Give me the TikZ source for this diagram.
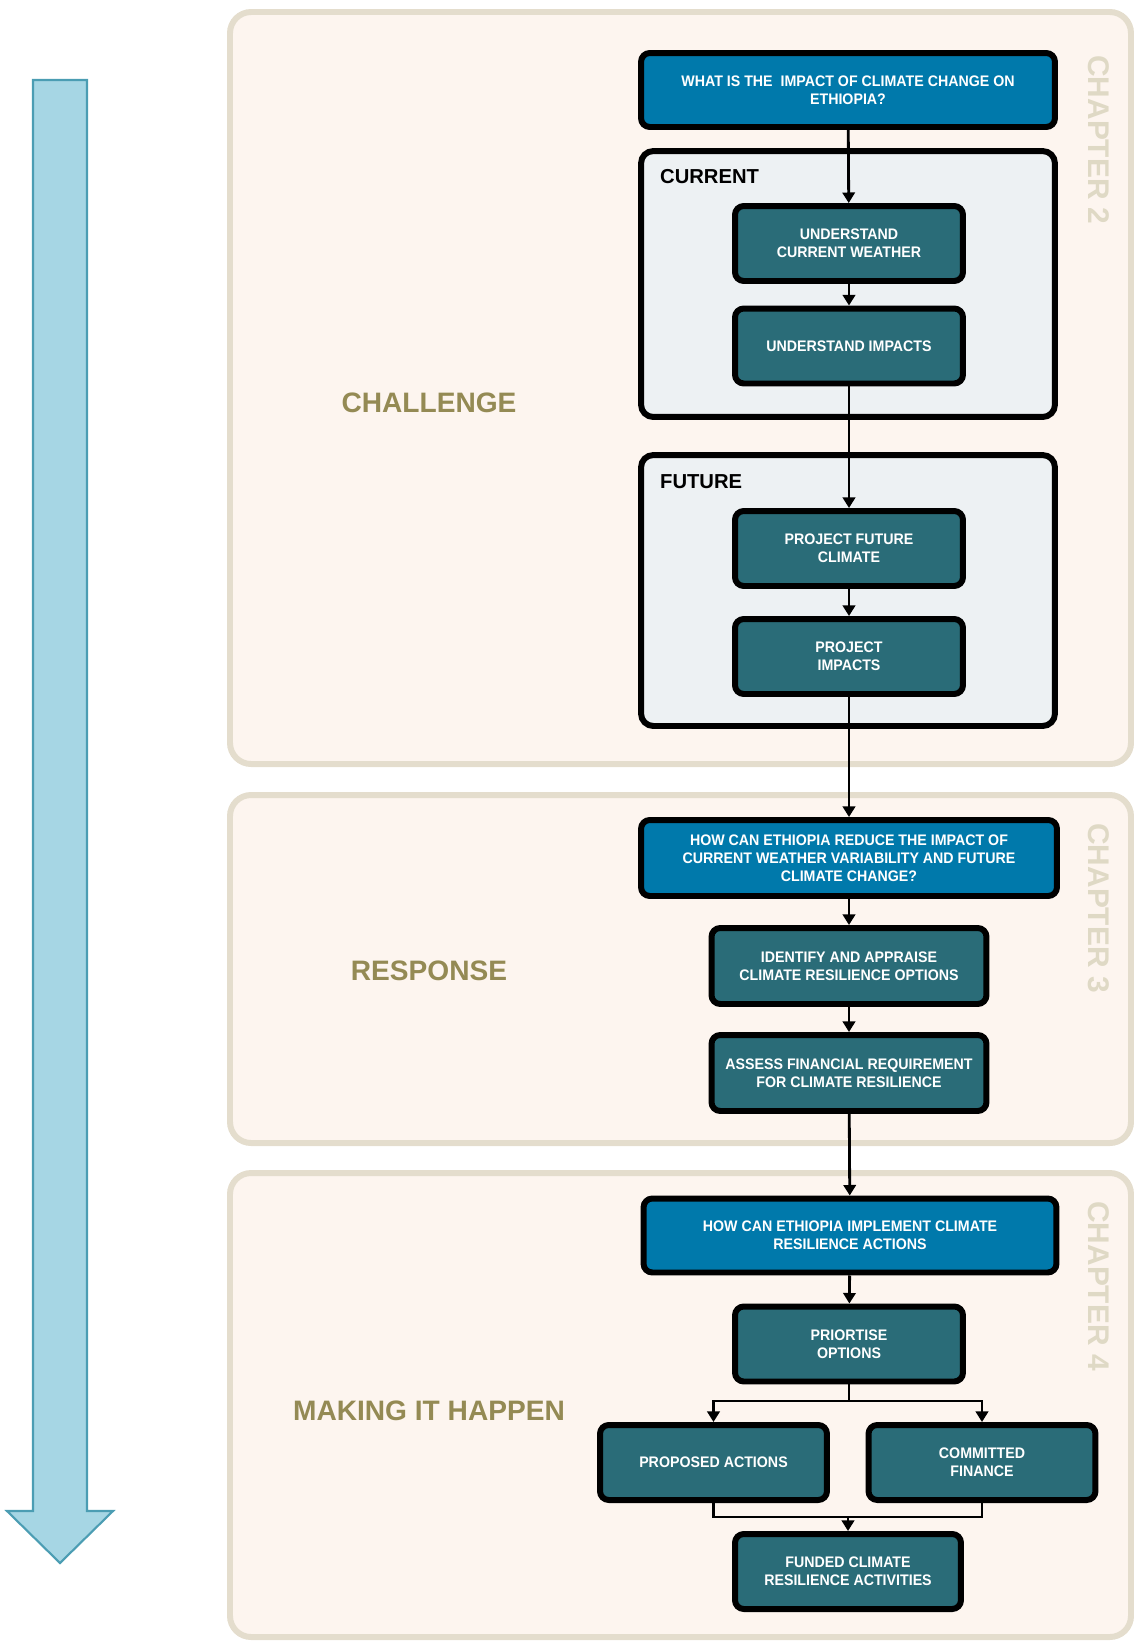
\documentclass[tikz,border=0pt]{standalone}
\usepackage{fontspec}
\setmainfont{Liberation Sans}
\newfontfamily\boxface{Liberation Sans}[FakeStretch=0.93]
\usetikzlibrary{positioning}
\usetikzlibrary {arrows.meta}

\definecolor{panelfill}{HTML}{FDF5EF}
\definecolor{panelline}{HTML}{E4DDCD}
\definecolor{groupgrey}{HTML}{EDF1F3}
\definecolor{qblue}{HTML}{0079AB}
\definecolor{tealbox}{HTML}{2A6C78}
\definecolor{olive}{HTML}{948A54}
\definecolor{chaptxt}{HTML}{DFD9C5}
\definecolor{arrowfill}{HTML}{A6D6E4}
\definecolor{arrowline}{HTML}{4B9DB3}

\begin{document}
\begin{tikzpicture}[x=0.02cm,y=-0.02cm,
  panel/.style={draw=panelline,fill=panelfill,line width=3.4pt,rounded corners=12pt},
  group/.style={draw=black,fill=groupgrey,line width=3.4pt,rounded corners=7pt,minimum width=8.28cm},
  qbox/.style={draw=black,fill=qblue,line width=3.4pt,rounded corners=5pt,text=white,font=\boxfont,align=center,inner sep=0pt,minimum width=8.3cm,minimum height=1.5cm},
  tbox/.style={qbox,fill=tealbox,minimum width=4.56cm},
  conn/.style={line width=1.6pt,-{Triangle[length=6pt,width=7pt]}},
  link/.style={line width=1.6pt},
  phase/.style={font=\phasefont,text=olive},
  chapter/.style={font=\chapfont,text=chaptxt,rotate=-90}]

\def\boxfont{\boxface\bfseries\fontsize{8.7}{10.3}\selectfont}
\def\phasefont{\bfseries\fontsize{16}{19}\selectfont}
\def\chapfont{\bfseries\fontsize{17}{20}\selectfont}
\def\grpfont{\bfseries\fontsize{11.5}{14}\selectfont}

\useasboundingbox (0,0) rectangle (1136,1641);

% big arrow on the left
\draw[fill=arrowfill,draw=arrowline,line width=1.2pt] (33,80) -- (87,80) -- (87,1511) -- (113,1511) -- (60,1563) -- (7,1511) -- (33,1511) -- cycle;

% three panels
\draw[panel] (230,12) rectangle (1131,764);
\draw[panel] (230,795) rectangle (1131,1143);
\draw[panel] (230,1173) rectangle (1131,1637);

\node[phase] (challenge) at (429,403) {CHALLENGE};
\node[phase] (response) at (429,971) {RESPONSE};
\node[phase] (happen) at (429,1411) {MAKING IT HAPPEN};

\node[chapter] (ch2) at (1099,140) {CHAPTER 2};
\node[chapter] (ch3) at (1099,908) {CHAPTER 3};
\node[chapter] (ch4) at (1099,1286) {CHAPTER 4};

% chapter 2
\node[qbox,minimum width=8.28cm,minimum height=1.48cm] (q1) at (848,90) {WHAT IS THE~ IMPACT OF CLIMATE CHANGE ON\\ETHIOPIA?};

\node[group,minimum height=5.32cm] (cur) at (848,284) {};
\node[font=\grpfont,anchor=west] (curlab) at (654,177) {CURRENT};
\node[tbox] (ucw) at (849,243.5) {UNDERSTAND\\CURRENT WEATHER};
\node[tbox] (ui) at (849,346) {UNDERSTAND IMPACTS};

\node[group,minimum height=5.42cm] (fut) at (848,590.5) {};
\node[font=\grpfont,anchor=west] (futlab) at (654,482) {FUTURE};
\node[tbox] (pfc) at (849,548.5) {PROJECT FUTURE\\CLIMATE};
\node[tbox] (pi) at (849,656.5) {PROJECT\\IMPACTS};

% chapter 3
\node[qbox,minimum width=8.32cm,minimum height=1.52cm] (q2) at (849,858) {HOW CAN ETHIOPIA REDUCE THE IMPACT OF\\CURRENT WEATHER VARIABILITY AND FUTURE\\CLIMATE CHANGE?};
\node[tbox,minimum width=5.5cm,minimum height=1.52cm] (iden) at (849,966) {IDENTIFY AND APPRAISE\\CLIMATE RESILIENCE OPTIONS};
\node[tbox,minimum width=5.5cm,minimum height=1.52cm] (fin) at (849,1073) {ASSESS FINANCIAL REQUIREMENT\\FOR CLIMATE RESILIENCE};

% chapter 4
\node[qbox,minimum width=8.26cm,minimum height=1.48cm] (q3) at (850,1235.5) {HOW CAN ETHIOPIA IMPLEMENT CLIMATE\\RESILIENCE ACTIONS};
\node[tbox] (prio) at (849,1344) {PRIORTISE\\OPTIONS};
\node[tbox,minimum width=4.54cm] (prop) at (713.5,1462.5) {PROPOSED ACTIONS};
\node[tbox,minimum width=4.54cm] (comm) at (982,1462.5) {COMMITTED\\FINANCE};
\node[tbox,minimum width=4.52cm] (fund) at (848,1571.5) {FUNDED CLIMATE\\RESILIENCE ACTIVITIES};

\coordinate (split) at (849,1401);
\coordinate (merge) at (848,1517);

\draw[conn] (q1) -- (ucw);
\draw[conn] (ucw) -- (ui);
\draw[conn] (ui) -- (pfc);
\draw[conn] (pfc) -- (pi);
\draw[conn] (pi) -- (q2);
\draw[conn] (q2) -- (iden);
\draw[conn] (iden) -- (fin);
\draw[conn] (fin) -- (q3);
\draw[conn] (q3) -- (prio);
\draw[link] (prio) -- (split);
\draw[conn] (split) -| (prop.north);
\draw[conn] (split) -| (comm.north);
\draw[link] (prop.south) |- (merge) -| (comm.south);
\draw[conn] (merge) -- (fund);
\end{tikzpicture}
\end{document}
